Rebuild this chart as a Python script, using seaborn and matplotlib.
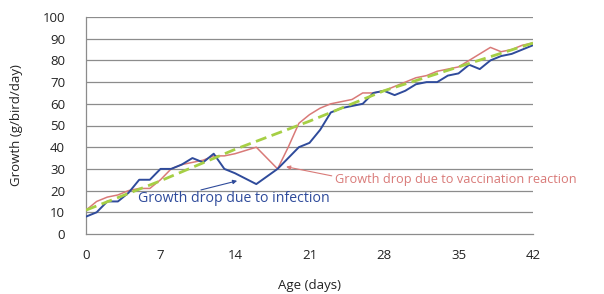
import matplotlib
matplotlib.use("Agg")
import matplotlib.pyplot as plt
import seaborn as sns
import pandas as pd

days = list(range(0, 43))
infection = [8, 10, 15, 15, 19, 25, 25, 30, 30, 32, 35, 33, 37, 30, 28, 25.5, 23, 26.5, 30, 35,
             40, 42, 48, 56, 58, 59, 60, 65, 66, 64, 66, 69, 70, 70, 73, 74, 78, 76, 80, 82,
             83, 85, 87]
vaccination = [11, 15, 17, 18, 20, 21, 21, 25, 30, 32, 33, 34, 36, 36, 37, 38.5, 40, 35, 30, 40,
               51, 55, 58, 60, 61, 62, 65, 65, 66, 68, 70, 72, 73, 75, 76, 77, 80, 83, 86, 84,
               85, 87, 88]
trend_days = [0, 7, 14, 21, 28, 35, 42]
trend = [11, 24.5, 39, 52, 66, 77, 88]
x_ticks = [0, 7, 14, 21, 28, 35, 42]
y_ticks = [0, 10, 20, 30, 40, 50, 60, 70, 80, 90, 100]

sns.set_style("white")
plt.rcParams['font.family'] = ['Open Sans', 'DejaVu Sans']

blue = "#2f4b9b"
red = "#d97a78"
green = "#a6cf45"
grid = "#8c8c8c"

fig = plt.figure(figsize=(6.04, 2.94), dpi=100)
ax = fig.add_axes([86/604, 1-234/294, (533-86)/604, (234-17)/294])

df_i = pd.DataFrame({"day": days, "g": infection})
df_v = pd.DataFrame({"day": days, "g": vaccination})
df_t = pd.DataFrame({"day": trend_days, "g": trend})

for yv in y_ticks[1:]:
    ax.axhline(yv, color=grid, lw=0.9, zorder=0)

sns.lineplot(data=df_v, x="day", y="g", ax=ax, color=red, lw=1.1, zorder=3)
sns.lineplot(data=df_i, x="day", y="g", ax=ax, color=blue, lw=1.4, zorder=4)
sns.lineplot(data=df_t, x="day", y="g", ax=ax, color=green, lw=2.0, zorder=5)
ax.lines[-1].set_dashes([4, 2])

ax.set_xlim(0, 42)
ax.set_ylim(0, 100)
ax.set_xticks(x_ticks)
ax.set_yticks(y_ticks)
ax.tick_params(axis="both", labelsize=9.5, colors="#222222", length=5, width=0.8,
               color=grid, direction="out")
ax.tick_params(axis="y", pad=10)
ax.tick_params(axis="x", pad=6)
for s in ["top", "right"]:
    ax.spines[s].set_visible(False)
for s in ["left", "bottom"]:
    ax.spines[s].set_color(grid)
    ax.spines[s].set_linewidth(0.9)
ax.set_xlabel("Age (days)", fontsize=9.5, color="#222222", labelpad=12)
ax.set_ylabel("Growth (g/bird/day)", fontsize=9.5, color="#222222", labelpad=14)

ax.annotate("Growth drop due to vaccination reaction", xy=(18.8, 31), xytext=(23.4, 25.3),
            fontsize=9.2, color=red, va="center", ha="left",
            arrowprops=dict(arrowstyle="-|>", color=red, lw=0.8, mutation_scale=6,
                            shrinkA=0, shrinkB=0, relpos=(0, 0.7)))
ax.annotate("", xy=(14.2, 24.5), xytext=(10.8, 20.3),
            arrowprops=dict(arrowstyle="-|>", color=blue, lw=0.8, mutation_scale=6,
                            shrinkA=0, shrinkB=0))
ax.text(4.9, 16.3, "Growth drop due to infection", fontsize=10.2, color=blue, va="center",
        ha="left")

fig.savefig("out.png", dpi=100)
